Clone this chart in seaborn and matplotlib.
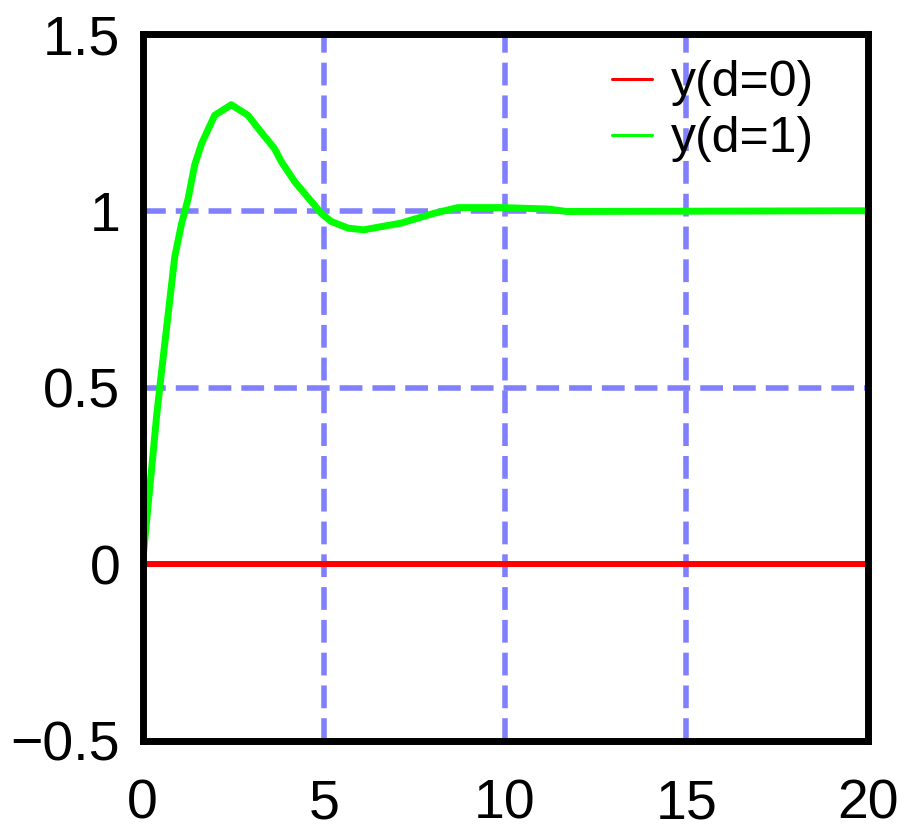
import matplotlib
matplotlib.use("Agg")
import matplotlib.pyplot as plt
from matplotlib.lines import Line2D
import seaborn as sns
import pandas as pd

# Data
t_d0 = [0, 20]
y_d0 = [0, 0]
t_d1 = [0, 0.39, 0.52, 0.71, 0.89, 1.07, 1.26, 1.44, 1.63, 1.99, 2.45, 2.91,
        3.19, 3.64, 3.83, 4.2, 4.66, 4.93, 5.2, 5.67, 6.1, 6.58, 7.13, 8.05,
        8.7, 9.89, 11.18, 11.7, 20]
y_d1 = [0, 0.42, 0.54, 0.71, 0.87, 0.96, 1.035, 1.13, 1.19, 1.27, 1.30, 1.27,
        1.233, 1.176, 1.139, 1.082, 1.026, 0.993, 0.97, 0.951, 0.946, 0.955,
        0.965, 0.993, 1.009, 1.009, 1.005, 0.998, 1.0]
labels = ["y(d=0)", "y(d=1)"]
x_ticks = [0, 5, 10, 15, 20]
y_ticks = [-0.5, 0, 0.5, 1, 1.5]
y_tick_labels = ["\u22120.5", "0", "0.5", "1", "1.5"]

sns.set_theme(style="white")
plt.rcParams['font.family'] = ['Liberation Sans', 'DejaVu Sans']
plt.rcParams['text.color'] = 'black'

df = pd.concat([
    pd.DataFrame({"t": t_d0, "y": y_d0, "series": labels[0]}),
    pd.DataFrame({"t": t_d1, "y": y_d1, "series": labels[1]}),
])

fig = plt.figure(figsize=(9.1, 8.32), dpi=100)
ax = fig.add_axes([0.1566, 0.1094, 0.7967, 0.8497])

grid_kw = dict(color="#8080ff", lw=4.0, dashes=(4.1, 1.8), zorder=1)
for xv in [5, 10, 15]:
    ax.axvline(xv, **grid_kw)
for yv in [0, 0.5, 1]:
    ax.axhline(yv, **grid_kw)

sns.lineplot(data=df, x="t", y="y", hue="series", palette=["#ff0000", "#00ff00"],
             ax=ax, legend=False, estimator=None, sort=False, zorder=3)
lines = ax.get_lines()[-2:]
lines[0].set_linewidth(4.3)
lines[1].set_linewidth(5.0)
for ln in lines:
    ln.set_solid_joinstyle("round")
    ln.set_solid_capstyle("butt")

ax.set_xlim(0, 20)
ax.set_ylim(-0.5, 1.5)
ax.set_xticks(x_ticks)
ax.set_xticklabels([str(v) for v in x_ticks])
ax.set_yticks(y_ticks)
ax.set_yticklabels(y_tick_labels)
ax.set_xlabel("")
ax.set_ylabel("")
ax.tick_params(direction="in", length=6, width=4, labelsize=40,
               colors="black", labelcolor="black")
ax.tick_params(axis="x", pad=27)
ax.tick_params(axis="y", pad=16)
for s in ax.spines.values():
    s.set_linewidth(5.0)
    s.set_color("black")
    s.set_zorder(5)

handles = [Line2D([], [], color="#ff0000", lw=2.2),
           Line2D([], [], color="#00ff00", lw=2.2)]
leg = ax.legend(handles, labels, loc="upper left", frameon=False, fontsize=36,
                handlelength=0.8, handletextpad=0.38, labelspacing=0.2,
                borderpad=0, borderaxespad=0, bbox_to_anchor=(0.6476, 0.963))
for txt in leg.get_texts():
    txt.set_color("black")

fig.savefig("out.png", dpi=100)
